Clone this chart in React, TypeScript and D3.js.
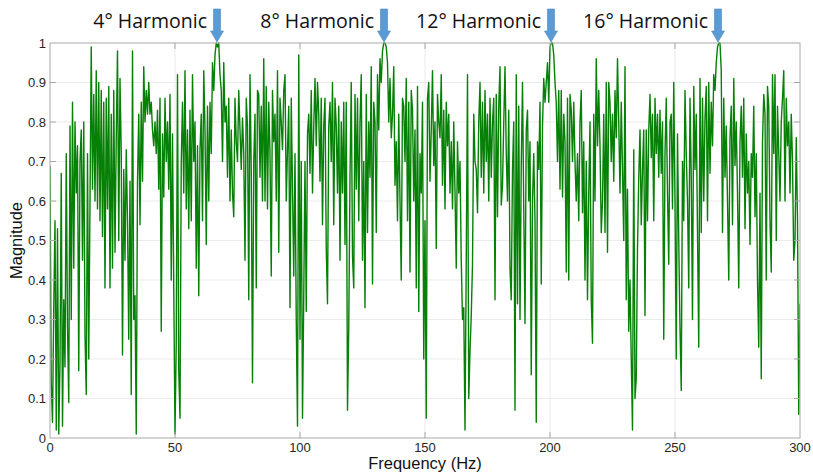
import React, { useRef, useEffect } from 'react';
import { select, scaleLinear, line } from 'd3';

const freqStep = 0.5;
const magnitude = [
  0.69, 0.14, 0.04, 0.33, 0.55, 0.02, 0.53, 0.01, 0.19, 0.67, 0.03, 0.35, 0.18, 0.72, 0.28, 0.09, 0.79, 0.30, 0.85, 0.43,
  0.80, 0.62, 0.74, 0.17, 0.70, 0.78, 0.45, 0.80, 0.26, 0.11, 0.72, 0.20, 0.60, 0.99, 0.63, 0.87, 0.60, 0.93, 0.58, 0.90,
  0.55, 0.88, 0.51, 0.85, 0.38, 0.86, 0.58, 0.89, 0.38, 0.82, 0.43, 0.88, 0.47, 0.76, 0.98, 0.50, 0.91, 0.72, 0.21, 0.68,
  0.45, 0.73, 0.55, 0.25, 0.65, 0.11, 0.98, 0.30, 0.36, 0.01, 0.65, 0.82, 0.54, 0.85, 0.65, 0.94, 0.80, 0.88, 0.82, 0.90,
  0.82, 0.85, 0.78, 0.74, 0.80, 0.72, 0.83, 0.63, 0.86, 0.27, 0.77, 0.61, 0.86, 0.70, 0.80, 0.63, 0.87, 0.40, 0.77, 0.38,
  0.01, 0.24, 0.92, 0.17, 0.05, 0.70, 0.85, 0.62, 0.93, 0.58, 0.78, 0.53, 0.83, 0.55, 0.92, 0.70, 0.80, 0.43, 0.74, 0.36,
  0.73, 0.82, 0.55, 0.93, 0.78, 0.49, 0.84, 0.60, 0.85, 0.72, 0.95, 0.88, 0.97, 1.00, 0.99, 1.00, 0.92, 0.88, 0.70, 0.95,
  0.80, 0.84, 0.66, 0.86, 0.60, 0.78, 0.62, 0.56, 0.86, 0.75, 0.70, 0.88, 0.78, 0.68, 0.81, 0.72, 0.45, 0.86, 0.79, 0.35,
  0.92, 0.68, 0.14, 0.70, 0.82, 0.38, 0.88, 0.87, 0.66, 0.84, 0.60, 0.96, 0.60, 0.89, 0.58, 0.85, 0.72, 0.41, 0.88, 0.75,
  0.82, 0.60, 0.93, 0.47, 0.86, 0.80, 0.73, 0.88, 0.92, 0.60, 0.73, 0.84, 0.33, 0.86, 0.63, 0.41, 0.72, 0.30, 0.03, 0.97,
  0.25, 0.70, 0.05, 0.36, 0.70, 0.32, 0.77, 0.82, 0.67, 0.88, 0.62, 0.79, 0.91, 0.74, 0.90, 0.82, 0.65, 0.86, 0.54, 0.79,
  0.86, 0.48, 0.34, 0.79, 0.85, 0.70, 0.90, 0.54, 0.86, 0.79, 0.62, 0.84, 0.45, 0.80, 0.62, 0.85, 0.49, 0.85, 0.07, 0.28,
  0.66, 0.90, 0.46, 0.38, 0.87, 0.63, 0.86, 0.55, 0.80, 0.92, 0.45, 0.70, 0.33, 0.87, 0.52, 0.80, 0.66, 0.94, 0.39, 0.85,
  0.80, 0.52, 0.92, 0.78, 0.96, 0.90, 0.98, 1.00, 1.00, 0.99, 0.95, 0.80, 0.91, 0.76, 0.82, 0.94, 0.64, 0.75, 0.55, 0.82,
  0.60, 0.40, 0.86, 0.84, 0.70, 0.91, 0.55, 0.85, 0.42, 0.88, 0.83, 0.60, 0.78, 0.38, 0.89, 0.32, 0.72, 0.62, 0.85, 0.20,
  0.55, 0.05, 0.86, 0.90, 0.65, 0.78, 0.93, 0.69, 0.80, 0.48, 0.87, 0.80, 0.76, 0.92, 0.64, 0.83, 0.58, 0.85, 0.74, 0.82,
  0.62, 0.75, 0.58, 0.80, 0.62, 0.43, 0.75, 0.62, 0.70, 0.45, 0.30, 0.33, 0.02, 0.45, 0.92, 0.10, 0.22, 0.31, 0.44, 0.82,
  0.70, 0.68, 0.57, 0.80, 0.90, 0.66, 0.85, 0.62, 0.88, 0.70, 0.82, 0.60, 0.86, 0.66, 0.80, 0.86, 0.35, 0.87, 0.56, 0.84,
  0.94, 0.59, 0.64, 0.80, 0.94, 0.72, 0.60, 0.83, 0.43, 0.35, 0.68, 0.80, 0.07, 0.92, 0.34, 0.84, 0.30, 0.69, 0.90, 0.58,
  0.29, 0.78, 0.83, 0.60, 0.75, 0.16, 0.60, 0.72, 0.55, 0.04, 0.75, 0.68, 0.85, 0.39, 0.79, 0.91, 0.85, 0.90, 0.95, 0.85,
  0.99, 1.00, 1.00, 0.97, 0.90, 0.85, 0.70, 0.88, 0.63, 0.88, 0.61, 0.82, 0.75, 0.42, 0.86, 0.40, 0.87, 0.83, 0.70, 0.85,
  0.70, 0.60, 0.72, 0.55, 0.80, 0.88, 0.57, 0.75, 0.40, 0.70, 0.35, 0.62, 0.80, 0.35, 0.24, 0.82, 0.60, 0.96, 0.74, 0.88,
  0.74, 0.52, 0.60, 0.82, 0.52, 0.90, 0.47, 0.90, 0.85, 0.70, 0.82, 0.65, 0.88, 0.76, 0.96, 0.80, 0.62, 0.85, 0.68, 0.50,
  0.94, 0.35, 0.63, 0.27, 0.40, 0.20, 0.02, 0.73, 0.10, 0.15, 0.48, 0.66, 0.78, 0.54, 0.68, 0.78, 0.31, 0.78, 0.55, 0.78,
  0.87, 0.71, 0.82, 0.55, 0.86, 0.72, 0.82, 0.66, 0.83, 0.67, 0.80, 0.25, 0.72, 0.86, 0.62, 0.44, 0.80, 0.82, 0.58, 0.90,
  0.60, 0.20, 0.77, 0.50, 0.28, 0.12, 0.70, 0.55, 0.88, 0.72, 0.60, 0.38, 0.86, 0.66, 0.30, 0.89, 0.68, 0.82, 0.52, 0.23,
  0.91, 0.52, 0.86, 0.60, 0.81, 0.89, 0.55, 0.90, 0.67, 0.85, 0.74, 0.92, 0.88, 0.95, 0.99, 1.00, 1.00, 0.93, 0.52, 0.86,
  0.66, 0.79, 0.60, 0.40, 0.76, 0.84, 0.54, 0.91, 0.69, 0.80, 0.62, 0.38, 0.75, 0.84, 0.66, 0.86, 0.53, 0.77, 0.62, 0.70,
  0.49, 0.72, 0.66, 0.84, 0.56, 0.72, 0.40, 0.23, 0.62, 0.15, 0.75, 0.87, 0.82, 0.40, 0.89, 0.84, 0.55, 0.42, 0.92, 0.72,
  0.92, 0.50, 0.84, 0.72, 0.60, 0.80, 0.86, 0.93, 0.60, 0.86, 0.74, 0.80, 0.62, 0.82, 0.70, 0.45, 0.50, 0.76, 0.55, 0.06,
  0.34,
];

const xTicks = [0, 50, 100, 150, 200, 250, 300];
const yTicks = [0, 0.1, 0.2, 0.3, 0.4, 0.5, 0.6, 0.7, 0.8, 0.9, 1];

const harmonicLabels = ['4° Harmonic', '8° Harmonic', '12° Harmonic', '16° Harmonic'];
const harmonicFreqs = [66.8, 133.6, 200.4, 267.2];

const width = 813;
const height = 475;
const margin = { top: 43, right: 13, bottom: 37, left: 50 };

const tickFont = "'Liberation Sans', Arial, sans-serif";

export default function App() {
  const svgRef = useRef(null);

  useEffect(() => {
    const svg = select(svgRef.current);
    svg.selectAll('*').remove();

    const x = scaleLinear()
      .domain([0, 300])
      .range([margin.left, width - margin.right]);
    const y = scaleLinear()
      .domain([0, 1])
      .range([height - margin.bottom, margin.top]);

    const [x0, x1] = x.range();
    const [yb, yt] = y.range();

    // grid
    svg
      .append('g')
      .selectAll('line')
      .data(xTicks.slice(1, -1))
      .join('line')
      .attr('x1', (d) => x(d))
      .attr('x2', (d) => x(d))
      .attr('y1', yt)
      .attr('y2', yb)
      .attr('stroke', '#ebebeb');
    svg
      .append('g')
      .selectAll('line')
      .data(yTicks.slice(1, -1))
      .join('line')
      .attr('x1', x0)
      .attr('x2', x1)
      .attr('y1', (d) => y(d))
      .attr('y2', (d) => y(d))
      .attr('stroke', '#ebebeb');

    // the spectrum
    svg
      .append('clipPath')
      .attr('id', 'plot-clip')
      .append('rect')
      .attr('x', x0)
      .attr('y', yt - 1)
      .attr('width', x1 - x0)
      .attr('height', yb - yt + 2);

    const lineGen = line()
      .x((d, i) => x(i * freqStep))
      .y((d) => y(d));

    svg
      .append('path')
      .datum(magnitude)
      .attr('clip-path', 'url(#plot-clip)')
      .attr('d', lineGen)
      .attr('fill', 'none')
      .attr('stroke', '#068006')
      .attr('stroke-width', 1.4)
      .attr('stroke-linejoin', 'round');

    // box + ticks
    svg
      .append('rect')
      .attr('x', x0)
      .attr('y', yt)
      .attr('width', x1 - x0)
      .attr('height', yb - yt)
      .attr('fill', 'none')
      .attr('stroke', '#a8a8a8');

    const ticks = svg.append('g').attr('stroke', '#a8a8a8');
    xTicks.slice(1, -1).forEach((t) => {
      ticks.append('line').attr('x1', x(t)).attr('x2', x(t)).attr('y1', yb).attr('y2', yb - 6);
      ticks.append('line').attr('x1', x(t)).attr('x2', x(t)).attr('y1', yt).attr('y2', yt + 6);
    });
    yTicks.slice(1, -1).forEach((t) => {
      ticks.append('line').attr('x1', x0).attr('x2', x0 + 6).attr('y1', y(t)).attr('y2', y(t));
      ticks.append('line').attr('x1', x1).attr('x2', x1 - 6).attr('y1', y(t)).attr('y2', y(t));
    });

    // tick labels
    svg
      .append('g')
      .selectAll('text')
      .data(xTicks)
      .join('text')
      .attr('x', (d) => x(d))
      .attr('y', yb + 14)
      .attr('text-anchor', 'middle')
      .style('font-family', tickFont)
      .style('font-size', '13px')
      .attr('fill', '#262626')
      .text((d) => d);

    svg
      .append('g')
      .selectAll('text')
      .data(yTicks)
      .join('text')
      .attr('x', x0 - 4)
      .attr('y', (d) => y(d) + 4.5)
      .attr('text-anchor', 'end')
      .style('font-family', tickFont)
      .style('font-size', '13px')
      .attr('fill', '#262626')
      .text((d) => d);

    // axis titles
    svg
      .append('text')
      .attr('x', (x0 + x1) / 2)
      .attr('y', 469)
      .attr('text-anchor', 'middle')
      .style('font-family', tickFont)
      .style('font-size', '16.5px')
      .attr('fill', '#111')
      .text('Frequency (Hz)');

    svg
      .append('text')
      .attr('transform', `translate(22, ${(yt + yb) / 2}) rotate(-90)`)
      .attr('text-anchor', 'middle')
      .style('font-family', tickFont)
      .style('font-size', '16.5px')
      .attr('fill', '#111')
      .text('Magnitude');

    // harmonic annotations
    const notes = svg.append('g');
    harmonicFreqs.forEach((f, i) => {
      const cx = x(f);
      notes
        .append('path')
        .attr(
          'd',
          `M${cx - 3.5},9 L${cx + 3.5},9 L${cx + 3.5},31 L${cx + 6.5},31 L${cx},${yt - 1} L${cx - 6.5},31 L${cx - 3.5},31 Z`
        )
        .attr('fill', '#5b9bd5')
        .attr('stroke', '#4a86c0')
        .attr('stroke-width', 0.6);
      notes
        .append('text')
        .attr('x', cx - 10)
        .attr('y', 28)
        .attr('text-anchor', 'end')
        .style('font-family', "'Open Sans', sans-serif")
        .style('font-size', '19.5px')
        .attr('fill', '#111')
        .text(harmonicLabels[i]);
    });
  }, []);

  return (
    <div style={{ position: 'absolute', left: 0, top: 0 }}>
      <svg ref={svgRef} width={width} height={height} style={{ display: 'block', background: '#fff' }}></svg>
    </div>
  );
}
